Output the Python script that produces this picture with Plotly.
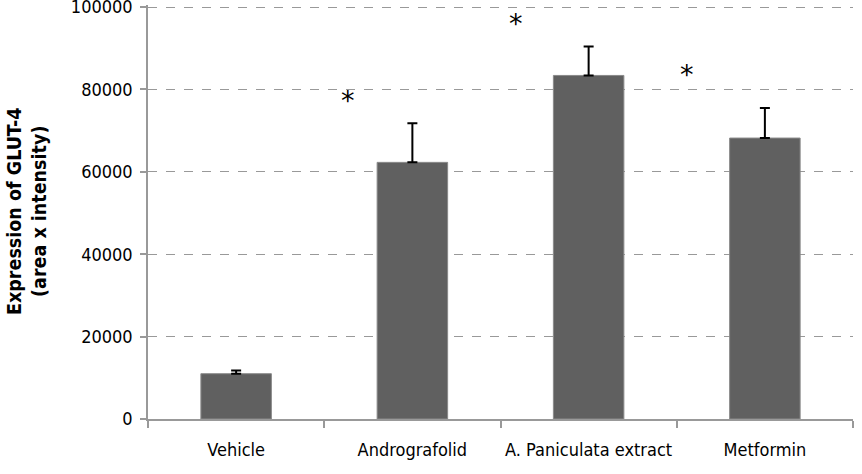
import plotly.graph_objects as go

categories = ["Vehicle", "Andrografolid", "A. Paniculata extract", "Metformin"]
values = [11000, 62300, 83400, 68200]
errors = [800, 9500, 7000, 7300]
star_x = [0.636, 1.59, 2.56]
star_y = [77400, 96100, 83700]
y_ticks = [0, 20000, 40000, 60000, 80000, 100000]
y_labels = ["0", "20000", "40000", "60000", "80000", "100000"]

fig = go.Figure()
fig.add_trace(go.Bar(
    x=categories, y=values,
    marker=dict(color="#606060", line=dict(color="#8a8a8a", width=1)),
    width=0.4,
    error_y=dict(type="data", array=errors, symmetric=False, arrayminus=[0]*4,
                 color="black", thickness=2, width=5),
))
for sx, sy in zip(star_x, star_y):
    fig.add_annotation(x=sx, y=sy, xref="x", yref="y", text="*", showarrow=False,
                       font=dict(family="DejaVu Sans", size=27, color="black"))

fig.add_annotation(xref="paper", yref="paper", x=-121/705, y=0.5,
                   text="<b>Expression of GLUT-4<br>(area x intensity)</b>",
                   textangle=-90, showarrow=False, xanchor="center", yanchor="middle",
                   font=dict(family="DejaVu Sans Condensed", size=19.5, color="black"))

fig.update_layout(
    width=862, height=474,
    margin=dict(l=148, r=9, t=5, b=55),
    plot_bgcolor="white", paper_bgcolor="white",
    showlegend=False,
    font=dict(family="DejaVu Sans Condensed", size=18, color="black"),
    xaxis=dict(showline=True, linecolor="#999999", linewidth=1.5, tickangle=0,
               automargin=False,
               ticks="outside", tickson="boundaries", ticklen=7, tickcolor="#999999",
               tickwidth=1.5, ticklabelstandoff=14, showgrid=False,
               tickfont=dict(family="DejaVu Sans Condensed", size=18)),
    yaxis=dict(range=[0, 100500], tickvals=y_ticks, ticktext=y_labels, showline=True,
               automargin=False,
               linecolor="#999999", linewidth=1.5, ticks="outside", ticklen=6,
               tickcolor="#999999", tickwidth=1.5,
               showgrid=True, gridcolor="#999999", griddash="dash", gridwidth=1,
               zeroline=False, tickfont=dict(family="DejaVu Sans Condensed", size=18),
               ticklabelstandoff=4, ticklabeloverflow="allow"),
)
fig.write_html("out.html")
